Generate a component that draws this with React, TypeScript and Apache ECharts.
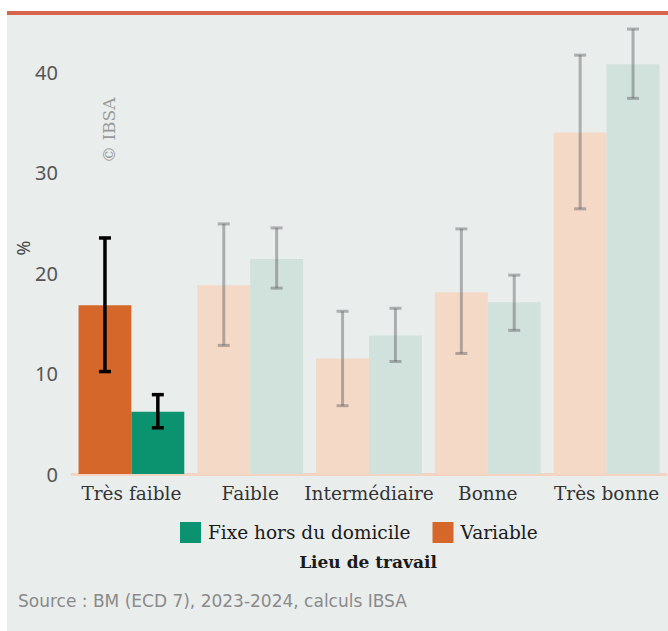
import React, { useEffect, useRef } from "react";
import * as echarts from "echarts";

const categories = ["Très faible", "Faible", "Intermédiaire", "Bonne", "Très bonne"];
const variableValues = [16.8, 18.8, 11.5, 18.1, 34.0];
const variableLow = [10.2, 12.8, 6.8, 12.0, 26.4];
const variableHigh = [23.5, 24.9, 16.2, 24.4, 41.7];
const fixeValues = [6.2, 21.4, 13.8, 17.1, 40.8];
const fixeLow = [4.6, 18.5, 11.2, 14.3, 37.4];
const fixeHigh = [7.9, 24.5, 16.5, 19.8, 44.3];
const yTicks = [0, 10, 20, 30, 40];

const VAR_COLOR = "#d5672a";
const VAR_FADED = "#f3d9c6";
const FIX_COLOR = "#0b9370";
const FIX_FADED = "#d1e1db";
const SERIF = "'DejaVu Serif', serif";
const SANS = "'Noto Sans', sans-serif";

function makeErrorRender(sign: number) {
  return (params: any, api: any) => {
    const i = api.value(0);
    const lo = api.coord([i, api.value(1)]);
    const hi = api.coord([i, api.value(2)]);
    const band = api.size([1, 0])[0];
    const x = lo[0] + sign * band * 0.2225;
    const highlight = i === 0;
    const style = {
      stroke: highlight ? "#000000" : "rgba(95,95,100,0.45)",
      lineWidth: highlight ? 3.5 : 3,
    };
    const hw = 6;
    return {
      type: "group",
      children: [
        { type: "line", shape: { x1: x, y1: hi[1], x2: x, y2: lo[1] }, style },
        { type: "line", shape: { x1: x - hw, y1: hi[1], x2: x + hw, y2: hi[1] }, style },
        { type: "line", shape: { x1: x - hw, y1: lo[1], x2: x + hw, y2: lo[1] }, style },
      ],
    };
  };
}

export default function App() {
  const ref = useRef<HTMLDivElement>(null);
  useEffect(() => {
    document.body.style.margin = "0";
    const chart = echarts.init(ref.current!, null, { renderer: "svg" });
    chart.setOption({
      animation: false,
      backgroundColor: "#ffffff",
      graphic: [
        { type: "rect", z: -10, shape: { x: 7, y: 13, width: 661, height: 618 }, style: { fill: "#e9edec" } },
        { type: "rect", z: -9, shape: { x: 7, y: 11, width: 661, height: 4 }, style: { fill: "#d7654b" } },
        {
          type: "text",
          x: 100,
          y: 163,
          rotation: Math.PI / 2,
          style: { text: "© IBSA", font: `17px ${SERIF}`, fill: "#9a9a9a", textAlign: "left", textVerticalAlign: "top" },
        },
        {
          type: "text",
          x: 368,
          y: 562,
          style: { text: "Lieu de travail", font: `bold 17px ${SERIF}`, fill: "#1a1a1a", textAlign: "center", textVerticalAlign: "middle" },
        },
        {
          type: "text",
          x: 18,
          y: 601,
          style: { text: "Source : BM (ECD 7), 2023-2024, calculs IBSA", font: `17px 'DejaVu Sans', sans-serif`, fill: "#8a8a8a", textAlign: "left", textVerticalAlign: "middle" },
        },
      ],
      grid: { left: 72, right: 2, top: 22, bottom: 157 },
      legend: {
        data: ["Fixe hors du domicile", "Variable"],
        left: 180,
        top: 522,
        padding: 0,
        icon: "rect",
        itemWidth: 21,
        itemHeight: 21,
        itemGap: 22,
        textStyle: { fontFamily: SERIF, fontSize: 18.5, color: "#1a1a1a", padding: [0, 0, 0, 2] },
      },
      xAxis: {
        type: "category",
        data: categories,
        axisLine: { lineStyle: { color: "#f3d3c2", width: 3 } },
        axisTick: { show: false },
        axisLabel: { fontFamily: SERIF, fontSize: 18.5, color: "#333333", margin: 10, interval: 0 },
      },
      yAxis: {
        type: "value",
        min: 0,
        max: 45,
        interval: 10,
        name: "%",
        nameLocation: "middle",
        nameRotate: 90,
        nameGap: 40,
        nameMoveOverlap: false,
        nameTextStyle: { fontFamily: SANS, fontSize: 18, color: "#444444" },
        splitLine: { show: false },
        axisLine: { show: false },
        axisTick: { show: false },
        axisLabel: {
          fontFamily: SANS,
          fontSize: 20,
          color: "#555555",
          margin: 14,
          formatter: (v: number) => (yTicks.includes(v) ? String(v) : ""),
        },
      },
      series: [
        {
          name: "Variable",
          type: "bar",
          barGap: "0%",
          barCategoryGap: "11%",
          itemStyle: { color: VAR_COLOR },
          data: variableValues.map((v, i) => ({ value: v, itemStyle: { color: i === 0 ? VAR_COLOR : VAR_FADED } })),
        },
        {
          name: "Fixe hors du domicile",
          type: "bar",
          barGap: "0%",
          barCategoryGap: "11%",
          itemStyle: { color: FIX_COLOR },
          data: fixeValues.map((v, i) => ({ value: v, itemStyle: { color: i === 0 ? FIX_COLOR : FIX_FADED } })),
        },
        {
          name: "errVar",
          type: "custom",
          z: 5,
          renderItem: makeErrorRender(-1),
          encode: { x: 0, y: [1, 2] },
          data: categories.map((_, i) => [i, variableLow[i], variableHigh[i]]),
        },
        {
          name: "errFix",
          type: "custom",
          z: 5,
          renderItem: makeErrorRender(1),
          encode: { x: 0, y: [1, 2] },
          data: categories.map((_, i) => [i, fixeLow[i], fixeHigh[i]]),
        },
      ],
    });
    return () => chart.dispose();
  }, []);
  return <div ref={ref} style={{ position: "absolute", left: 0, top: 0, width: 668, height: 631 }} />;
}
